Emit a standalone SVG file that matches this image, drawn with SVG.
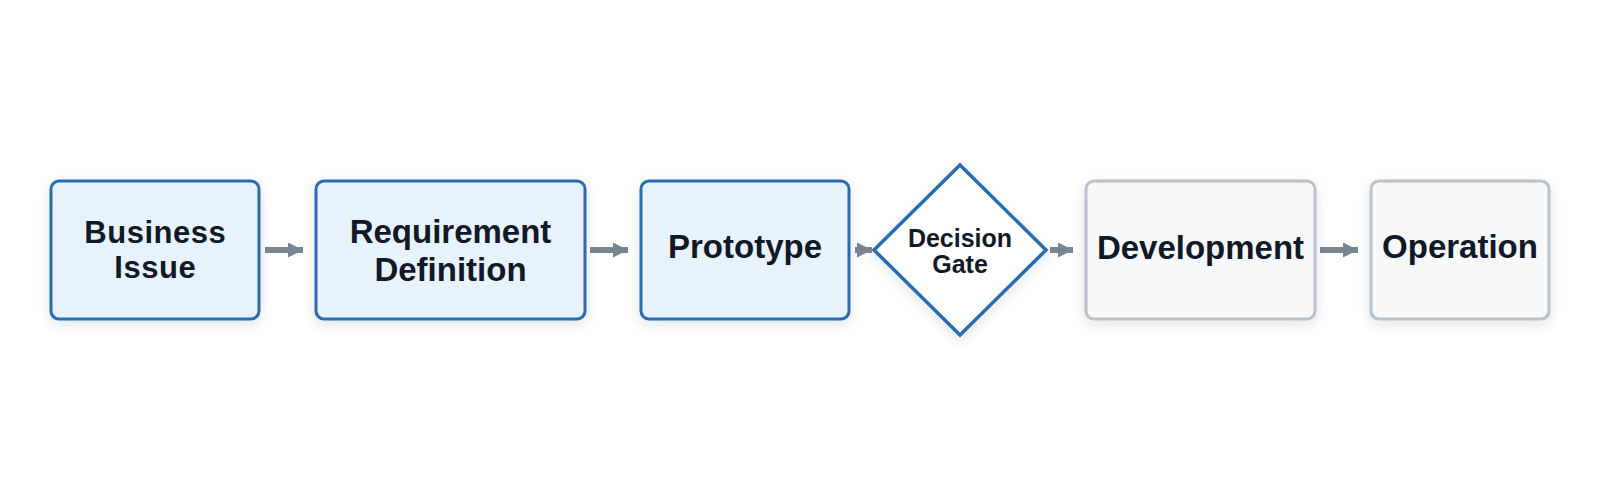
<svg xmlns="http://www.w3.org/2000/svg" width="1600" height="500" viewBox="0 0 1600 500">
  <defs>
    <filter id="shadow" x="-20%" y="-20%" width="140%" height="150%">
      <feDropShadow dx="0" dy="4" stdDeviation="6" flood-color="#1f2a37" flood-opacity="0.12"/>
    </filter>
    <marker id="arrow" markerUnits="userSpaceOnUse" markerWidth="15" markerHeight="15" refX="15" refY="7.5" orient="auto">
      <path d="M0,0 L15,7.5 L0,15 Z" fill="#7b8491"/>
    </marker>
  </defs>
  <style>
    .active { fill: #e8f2fb; stroke: #2b6cb0; stroke-width: 3; }
    .future { fill: #f6f8fa; stroke: #b9c2cc; stroke-width: 3; }
    .gate { fill: #ffffff; stroke: #2b6cb0; stroke-width: 3.5; stroke-linejoin: miter; }
    .label { font-family: "Liberation Sans", Arial, sans-serif; font-weight: bold; font-size: 33px; fill: #111827; text-anchor: middle; }
    .mid { font-size: 31px; letter-spacing: 0.5px; }
    .small { font-size: 25px; }
    .conn { stroke: #7b8491; stroke-width: 6; fill: none; marker-end: url(#arrow); }
  </style>
  <rect width="1600" height="500" fill="#ffffff"/>

  <g id="connectors">
    <line class="conn" x1="265" y1="250" x2="303" y2="250"/>
    <line class="conn" x1="590" y1="250" x2="628" y2="250"/>
    <line class="conn" x1="855" y1="250" x2="872" y2="250"/>
    <line class="conn" x1="1050" y1="250" x2="1073" y2="250"/>
    <line class="conn" x1="1320" y1="250" x2="1358" y2="250"/>
  </g>

  <g id="business-issue">
    <rect class="active" x="51" y="181" width="208" height="138" rx="8" filter="url(#shadow)"/>
    <text class="label mid" x="155.25" y="242.5">Business</text>
    <text class="label mid" x="155.25" y="278">Issue</text>
  </g>

  <g id="requirement-definition">
    <rect class="active" x="316" y="181" width="269" height="138" rx="8" filter="url(#shadow)"/>
    <text class="label" x="450.5" y="243">Requirement</text>
    <text class="label" x="450.5" y="281">Definition</text>
  </g>

  <g id="prototype">
    <rect class="active" x="641" y="181" width="208" height="138" rx="8" filter="url(#shadow)"/>
    <text class="label" x="745" y="258">Prototype</text>
  </g>

  <g id="decision-gate">
    <polygon class="gate" points="960,165 1046,250 960,335 874,250" filter="url(#shadow)"/>
    <text class="label small" x="960" y="247">Decision</text>
    <text class="label small" x="960" y="273">Gate</text>
  </g>

  <g id="development">
    <rect class="future" x="1086" y="181" width="229" height="138" rx="8" filter="url(#shadow)"/>
    <text class="label" x="1200.5" y="259">Development</text>
  </g>

  <g id="operation">
    <rect class="future" x="1371" y="181" width="178" height="138" rx="8" filter="url(#shadow)"/>
    <text class="label" x="1460" y="258">Operation</text>
  </g>
</svg>
